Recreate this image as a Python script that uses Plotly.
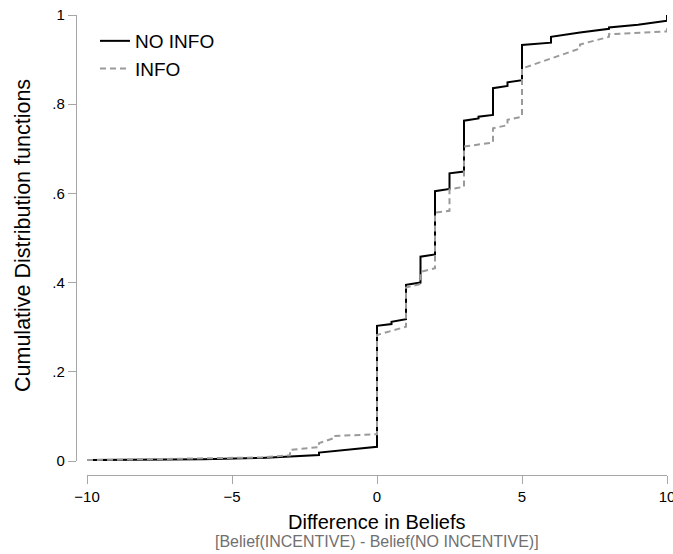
import plotly.graph_objects as go

# ---- data ----
noinfo_x = [-10, -6, -4, -3, -2, -2, -1, 0, 0, 0.5, 0.5, 1, 1, 1.5, 1.5, 2, 2, 2.5, 2.5, 3, 3,
            3.5, 3.5, 4, 4, 4.5, 4.5, 5, 5, 6, 6, 7, 8, 8, 9, 10, 10]
noinfo_y = [0.002, 0.004, 0.007, 0.010, 0.0135, 0.019, 0.025, 0.032, 0.303, 0.307, 0.312, 0.318,
            0.395, 0.400, 0.458, 0.463, 0.605, 0.610, 0.645, 0.649, 0.763, 0.768, 0.772, 0.776,
            0.836, 0.841, 0.849, 0.854, 0.933, 0.938, 0.951, 0.961, 0.969, 0.972, 0.978, 0.987, 1.0]

info_x = [-10, -6, -4, -3, -3, -2, -2, -1.5, -1.5, 0, 0, 1, 1, 1.5, 1.5, 2, 2, 2.5, 2.5, 3, 3,
          4, 4, 4.5, 4.5, 5, 5, 7, 7, 8, 8, 10, 10]
info_y = [0.002, 0.005, 0.008, 0.013, 0.025, 0.031, 0.040, 0.051, 0.056, 0.060, 0.2825, 0.301,
          0.389, 0.397, 0.424, 0.432, 0.557, 0.561, 0.609, 0.615, 0.705, 0.714, 0.746, 0.753,
          0.765, 0.772, 0.880, 0.925, 0.934, 0.951, 0.957, 0.963, 0.978]

x_ticks = [-10, -5, 0, 5, 10]
y_ticks = [0, 0.2, 0.4, 0.6, 0.8, 1]
y_ticklabels = ["0", ".2", ".4", ".6", ".8", "1"]

FONT = "Liberation Sans, Arial, Helvetica, sans-serif"
AXC = "#a6a6a6"

fig = go.Figure()
fig.add_trace(go.Scatter(x=noinfo_x, y=noinfo_y, mode="lines", name="NO INFO",
                         line=dict(color="black", width=2)))
fig.add_trace(go.Scatter(x=info_x, y=info_y, mode="lines", name="INFO",
                         line=dict(color="#9a9a9a", width=2, dash="6px,4px")))

W, H = 673, 554
ML, MR, MT, MB = 76, 6, 15, 79
PW, PH = W - ML - MR, H - MT - MB

fig.update_layout(
    width=W, height=H,
    margin=dict(l=ML, r=MR, t=MT, b=MB, pad=0, autoexpand=False),
    paper_bgcolor="white", plot_bgcolor="white",
    font=dict(family=FONT, color="black"),
    showlegend=True,
    legend=dict(x=(95 - ML) / PW, y=(H - MB - 22) / PH, xanchor="left", yanchor="top",
                font=dict(size=19, family=FONT), bgcolor="rgba(0,0,0,0)",
                itemwidth=30, tracegroupgap=0),
    xaxis=dict(domain=[11 / PW, 1], range=[-10, 10], anchor="free", position=0,
               showline=True, linecolor=AXC, linewidth=1.3, ticks="outside", ticklen=8,
               tickcolor=AXC, tickwidth=1.3, tickvals=x_ticks, showgrid=False, zeroline=False,
               ticklabeloverflow="allow", automargin=False,
               tickfont=dict(size=15, family=FONT)),
    yaxis=dict(domain=[14 / PH, 1], range=[0, 1], anchor="free", position=0,
               showline=True, linecolor=AXC, linewidth=1.3, ticks="outside", ticklen=8,
               tickcolor=AXC, tickwidth=1.3, tickvals=y_ticks, ticktext=y_ticklabels,
               ticklabeloverflow="allow", automargin=False,
               showgrid=False, zeroline=False, tickfont=dict(size=15, family=FONT)),
)

def py2paper(py):
    return (H - MB - py) / PH

def px2paper(px):
    return (px - ML) / PW

fig.add_annotation(text="Difference in Beliefs", x=px2paper(377), y=py2paper(522),
                   xref="paper", yref="paper", showarrow=False, xanchor="center", yanchor="middle",
                   font=dict(size=20, family=FONT, color="black"))
fig.add_annotation(text="[Belief(INCENTIVE) - Belief(NO INCENTIVE)]", x=px2paper(377),
                   y=py2paper(541), xref="paper", yref="paper", showarrow=False,
                   xanchor="center", yanchor="middle",
                   font=dict(size=16, family=FONT, color="#707070"))
fig.add_annotation(text="Cumulative Distribution functions", x=px2paper(23), y=py2paper(236),
                   xref="paper", yref="paper", showarrow=False, xanchor="center", yanchor="middle",
                   textangle=-90, font=dict(size=21.5, family=FONT, color="black"))

fig.write_html("out.html", config={"displayModeBar": False},
               post_script="document.body.style.margin='0';document.body.style.padding='0';")
